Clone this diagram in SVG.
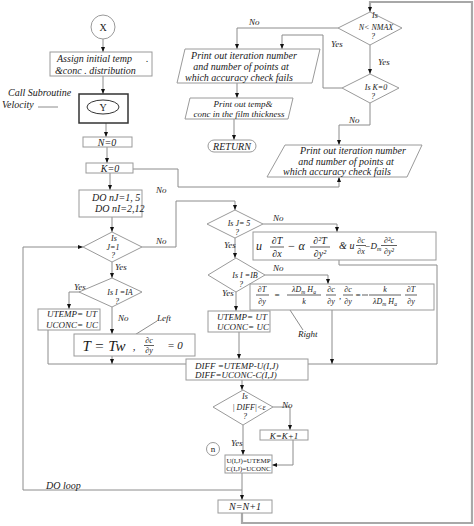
<svg xmlns="http://www.w3.org/2000/svg" width="474" height="526" viewBox="0 0 474 526">
<defs>
<marker id="ah" viewBox="0 0 10 8" refX="10" refY="4" markerWidth="5" markerHeight="4.5" orient="auto" markerUnits="userSpaceOnUse"><path d="M0,0 L10,4 L0,8 z" fill="#111"/></marker>
</defs>
<style>
.ln{fill:none;stroke:#8c8c8c;stroke-width:1}
.lk{fill:none;stroke:#a8a8a8;stroke-width:2.2}
.ar{marker-end:url(#ah)}
.bx{fill:#fff;stroke:#9a9a9a;stroke-width:1}
.t{font-family:"Liberation Serif",serif;font-style:italic;font-size:10px;fill:#1a1a1a}
.c{text-anchor:middle}
.s{font-size:9px}
.d{font-size:8px}
.xs{font-size:7px}
.r{font-style:normal}
.m{font-family:"Liberation Serif",serif;font-style:italic;fill:#1a1a1a;text-anchor:middle}
.fb{stroke:#1a1a1a;stroke-width:0.7}
</style>
<rect width="474" height="526" fill="#fff"/>

<g id="connectors">
<path class="ln ar" d="M103,39 V52"/>
<path class="ln ar" d="M103,76 V94"/>
<path class="ln" d="M38,107 H58"/>
<path class="ln ar" d="M106,123 V137"/>
<path class="ln ar" d="M107,147 V163"/>
<path class="ln ar" d="M110,173 V190"/>
<path class="ln ar" d="M112,217 V232"/>
<path class="ln ar" d="M133,169 H178 V187 H339 V177"/>
<path class="ln ar" d="M242,490 H23 V247 H83"/>
<path class="ln ar" d="M142,247 H176 V201 H235 V210"/>
<path class="ln ar" d="M112,262 V278"/>
<path class="ln ar" d="M80,292 H69 V309"/>
<path class="ln ar" d="M112,307 V334"/>
<path class="ln" d="M48,330 V364 H186"/>
<path class="ln ar" d="M112,356 V364"/>
<path class="ln ar" d="M263,224 H337 V232"/>
<path class="ln ar" d="M235,238 V258"/>
<path class="ln" d="M339,260 V265 H437 V364 H308"/>
<path class="ln ar" d="M265,275 H328 V284"/>
<path class="ln ar" d="M236,292 V311"/>
<path class="ln ar" d="M332,310 V364"/>
<path class="ln ar" d="M239,332 V359"/>
<path class="ln ar" d="M242,380 V390"/>
<path class="ln ar" d="M273,407 H290 V430"/>
<path class="ln ar" d="M243,425 V455"/>
<path class="ln ar" d="M293,440 V465 H272"/>
<path class="ln ar" d="M242,473 V500"/>
<path class="lk" d="M242,513 V523 H472 V2 H370 V8"/>
<path class="ln ar" d="M370,6 V12"/>
<path class="ln ar" d="M338,28 H237 V49"/>
<path class="ln ar" d="M342,88 H323 V35 H282 V49"/>
<path class="ln ar" d="M370,45 V74"/>
<path class="ln ar" d="M370,103 V125 H339 V145"/>
<path class="ln ar" d="M237,83 V98"/>
<path class="ln ar" d="M234,119 V140"/>
<path class="ln" d="M133,336 L157,321"/>
<path class="ln" d="M290,310 L303,330"/>
</g>

<g id="labels">
<text class="t s" x="249" y="25">No</text>
<text class="t s" x="331" y="47">Yes</text>
<text class="t s" x="378" y="65">Yes</text>
<text class="t s" x="349" y="123">No</text>
<text class="t s" x="156" y="193">No</text>
<text class="t s" x="156" y="244">No</text>
<text class="t s" x="115" y="270">Yes</text>
<text class="t s" x="273" y="221">No</text>
<text class="t s" x="224" y="248">Yes</text>
<text class="t s" x="273" y="271">No</text>
<text class="t s" x="222" y="296">Yes</text>
<text class="t s" x="74" y="290">Yes</text>
<text class="t s" x="118" y="321">No</text>
<text class="t s" x="157" y="321">Left</text>
<text class="t s" x="298" y="337">Right</text>
<text class="t s" x="282" y="408">No</text>
<text class="t s" x="231" y="446">Yes</text>
<text class="t" x="46" y="489">DO loop</text>
<text class="t" x="8" y="96">Call Subroutine</text>
<text class="t" x="2" y="108">Velocity</text>
</g>

<g id="nodeX"><circle cx="103" cy="27" r="12" class="bx"/><text class="t r c" x="103" y="31">X</text></g>

<g id="nodeAssign"><rect class="bx" x="50" y="52" width="102" height="24"/>
<text class="t" x="57" y="62">Assign initial temp</text><text class="t" x="146" y="62">.</text>
<text class="t" x="55" y="74">&amp;conc . distribution</text></g>

<g id="nodeY"><rect x="79" y="94" width="49" height="29" fill="#fff" stroke="#333" stroke-width="1.5"/>
<ellipse cx="103" cy="107" rx="16" ry="7" fill="#fff" stroke="#333" stroke-width="1"/>
<text class="t r c" x="103" y="110.5">Y</text></g>

<g id="nodeN0"><rect class="bx" x="83" y="137" width="49" height="10"/><text class="t c" x="107" y="145.5">N=0</text></g>
<g id="nodeK0"><rect class="bx" x="86" y="163" width="47" height="10"/><text class="t c" x="110" y="171.5">K=0</text></g>
<g id="nodeDO"><rect class="bx" x="79" y="190" width="63" height="27"/>
<text class="t" x="92" y="201">DO nJ=1, 5</text><text class="t" x="95" y="212">DO nI=2,12</text></g>

<g id="nodeJ1"><polygon class="bx" points="83,247 112,232 142,247 112,262"/>
<text class="t d c" x="114" y="241">Is</text><text class="t d c" x="113" y="249.5">J=1</text><text class="t d c" x="113" y="258">?</text></g>

<g id="nodeIA"><polygon class="bx" points="79,292 112,278 142,292 112,307"/>
<text class="t d c" x="120" y="295">Is I =IA</text><text class="t d c" x="117" y="304">?</text></g>

<g id="nodeUT1"><rect class="bx" x="38" y="309" width="62" height="21"/>
<text class="t s c" x="72" y="317">UTEMP= UT</text><text class="t s c" x="72" y="327.5">UCONC= UC</text></g>

<g id="nodeTw"><rect class="bx" x="74" y="334" width="121" height="22"/>
<text class="m" x="104" y="351" font-size="15">T = Tw</text>
<text class="m" x="134" y="350" font-size="11">,</text>
<text class="m" x="149" y="343" font-size="8">∂c</text><line class="fb" x1="144" y1="345.5" x2="154" y2="345.5"/><text class="m" x="149" y="353" font-size="8">∂y</text>
<text class="m" x="175" y="349" font-size="11" font-style="normal">=  0</text></g>

<g id="nodeNMAX"><polygon class="bx" points="338,28 370,12 402,28 370,45"/>
<text class="t d c" x="375" y="18">Is</text><text class="t d c" x="376" y="29.5">N&lt; NMAX</text><text class="t d c" x="373" y="39">?</text></g>

<g id="nodeKis0"><polygon class="bx" points="342,88 370,74 399,88 370,103"/>
<text class="t d c" x="376" y="90">Is K=0</text><text class="t d c" x="373" y="99">?</text></g>

<g id="nodePrint1"><polygon class="bx" points="185,49 320,49 312,83 177,83"/>
<text class="t c" x="244" y="59">Print out iteration number</text>
<text class="t c" x="241" y="70">and number of points at</text>
<text class="t c" x="239" y="81">which accuracy check fails</text></g>

<g id="nodePrint2"><polygon class="bx" points="190,98 293,98 288,119 185,119"/>
<text class="t s c" x="243" y="106.5">Print out temp&amp;</text>
<text class="t s c" x="239" y="116.5">conc in the film thickness</text></g>

<g id="nodeReturn"><rect class="bx" x="208" y="140" width="48" height="12" rx="6"/>
<text class="t c" x="232" y="149.5">RETURN</text></g>

<g id="nodePrint3"><polygon class="bx" points="285,145 422,145 407,177 267,177"/>
<text class="t c" x="353" y="154">Print out iteration number</text>
<text class="t c" x="346" y="165">and number of points at</text>
<text class="t c" x="337" y="175">which accuracy check fails</text></g>

<g id="nodeJ5"><polygon class="bx" points="207,224 235,210 263,224 235,238"/>
<text class="t d c" x="239" y="226">Is J= 5</text><text class="t d c" x="237" y="235">?</text></g>

<g id="nodeEq1"><rect class="bx" x="253" y="232" width="183" height="28"/>
<text class="m" x="259" y="250" font-size="12" font-style="normal">u</text>
<text class="m" x="277" y="244" font-size="10">∂T</text><line class="fb" x1="270" y1="247" x2="284" y2="247"/><text class="m" x="277" y="257" font-size="10">∂x</text>
<text class="m" x="296" y="250" font-size="12" font-style="normal">− α</text>
<text class="m" x="320" y="244" font-size="10">∂²T</text><line class="fb" x1="310" y1="247" x2="330" y2="247"/><text class="m" x="320" y="257" font-size="10">∂y²</text>
<text class="m" x="343" y="249" font-size="10" font-style="normal">&amp;</text>
<text class="m" x="352" y="249" font-size="10" font-style="normal">u</text>
<text class="m" x="361" y="243" font-size="8">∂c</text><line class="fb" x1="356" y1="245.5" x2="366" y2="245.5"/><text class="m" x="361" y="254" font-size="8">∂x</text>
<text class="m" x="373" y="249" font-size="9">−D<tspan font-size="6" dy="2">m</tspan></text>
<text class="m" x="389" y="243" font-size="8">∂²c</text><line class="fb" x1="381" y1="245.5" x2="397" y2="245.5"/><text class="m" x="389" y="254" font-size="8">∂y²</text></g>

<g id="nodeIB"><polygon class="bx" points="208,275 236,258 265,275 236,292"/>
<text class="t d c" x="245" y="277.5">Is I =IB</text><text class="t d c" x="241" y="287">?</text></g>

<g id="nodeEq2"><rect class="bx" x="250" y="284" width="184" height="26"/>
<text class="m" x="262" y="292" font-size="8">∂T</text><line class="fb" x1="256" y1="295" x2="269" y2="295"/><text class="m" x="262" y="304" font-size="8">∂y</text>
<text class="m" x="277" y="298" font-size="9" font-style="normal">=</text>
<text class="m" x="304" y="292" font-size="8">λD<tspan font-size="5.5" dy="1.5">m</tspan><tspan dy="-1.5"> H</tspan><tspan font-size="5.5" dy="1.5">a</tspan></text><line class="fb" x1="287" y1="295" x2="321" y2="295"/><text class="m" x="304" y="304" font-size="8">k</text>
<text class="m" x="331" y="292" font-size="8">∂c</text><line class="fb" x1="326" y1="295" x2="336" y2="295"/><text class="m" x="331" y="304" font-size="8">∂y</text>
<text class="m" x="340" y="299" font-size="9" font-style="normal">,</text>
<text class="m" x="348" y="292" font-size="8">∂c</text><line class="fb" x1="343" y1="295" x2="353" y2="295"/><text class="m" x="348" y="304" font-size="8">∂y</text>
<text class="m" x="358" y="298" font-size="9" font-style="normal">=</text>
<line class="fb" x1="362" y1="295" x2="368" y2="295"/>
<text class="m" x="385" y="292" font-size="8">k</text><line class="fb" x1="369" y1="295" x2="401" y2="295"/><text class="m" x="385" y="304" font-size="8">λD<tspan font-size="5.5" dy="1.5">m</tspan><tspan dy="-1.5"> H</tspan><tspan font-size="5.5" dy="1.5">a</tspan></text>
<text class="m" x="411" y="292" font-size="8">∂T</text><line class="fb" x1="405" y1="295" x2="417" y2="295"/><text class="m" x="411" y="304" font-size="8">∂y</text></g>

<g id="nodeUT2"><rect class="bx" x="208" y="311" width="62" height="21"/>
<text class="t s c" x="242" y="319.5">UTEMP= UT</text><text class="t s c" x="243" y="329.5">UCONC= UC</text></g>

<g id="nodeDIFF"><rect class="bx" x="186" y="359" width="122" height="21"/>
<text class="t s" x="195" y="368.5">DIFF =UTEMP-U(I,J)</text><text class="t s" x="195" y="377.5">DIFF=UCONC-C(I,J)</text></g>

<g id="nodeDIFFcheck"><polygon class="bx" points="213,407 243,390 273,407 243,425"/>
<text class="t d c" x="245" y="399">Is</text><text class="t d c" x="249" y="409.5">| DIFF|&lt;ε</text><text class="t d c" x="245" y="419">?</text></g>

<g id="nodeKK1"><rect class="bx" x="260" y="430" width="48" height="10"/><text class="t s c" x="284" y="438.5">K=K+1</text></g>

<g id="nodeN"><circle class="bx" cx="213" cy="449" r="6.5"/><text class="t r c s" x="213" y="452">n</text></g>

<g id="nodeU"><rect class="bx" x="225" y="455" width="47" height="18"/>
<text class="t r xs c" x="248.5" y="462.5">U(I,J)=UTEMP</text><text class="t r xs c" x="248.5" y="471">C(I,J)=UCONC</text></g>

<g id="nodeNN1"><rect class="bx" x="218" y="500" width="54" height="13"/><text class="t c" x="245" y="510">N=N+1</text></g>
</svg>
